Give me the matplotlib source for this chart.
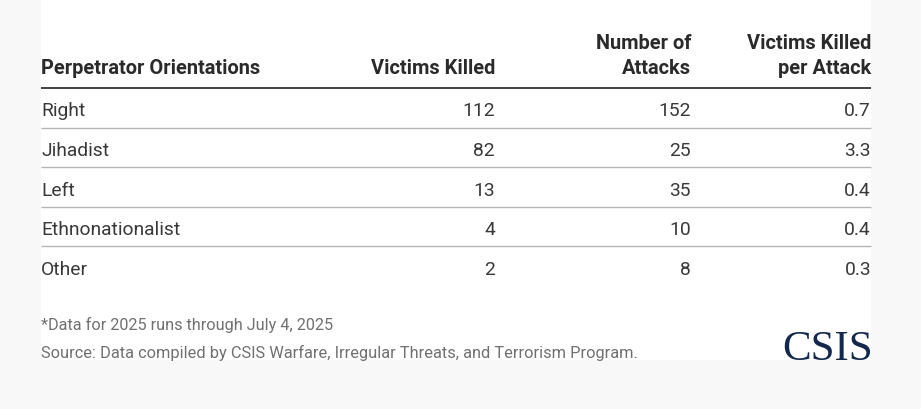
import matplotlib
matplotlib.use("Agg")
import matplotlib.pyplot as plt
from matplotlib.patches import Rectangle

# ---- data ----
categories = ["Right", "Jihadist", "Left", "Ethnonationalist", "Other"]
victims_killed = [112, 82, 13, 4, 2]
num_attacks = [152, 25, 35, 10, 8]
killed_per_attack = [0.7, 3.3, 0.4, 0.4, 0.3]
headers = ["Perpetrator Orientations", "Victims Killed", "Number of\nAttacks", "Victims Killed\nper Attack"]
note = "*Data for 2025 runs through July 4, 2025"
source = "Source: Data compiled by CSIS Warfare, Irregular Threats, and Terrorism Program."

W, H = 921, 410
fig = plt.figure(figsize=(W / 100, H / 100), dpi=100)
fig.patch.set_facecolor("#f8f8f8")
ax = fig.add_axes([0, 0, 1, 1])
ax.set_xlim(0, W)
ax.set_ylim(H, 0)
ax.axis("off")

# white panel
ax.add_patch(Rectangle((41, 0), 830, 361, facecolor="white", edgecolor="none", zorder=0))

FONT = "Roboto"
hdr_color = "#2a2a2a"
body_color = "#383838"
left_x = 41
col_right = [495, 691, 871]
header_base = 74
hdr_fs = 14.4
body_fs = 13.9

# headers
ax.text(left_x, header_base, headers[0], ha="left", va="baseline", fontsize=hdr_fs,
        fontweight="bold", color=hdr_color, family=FONT)
for xr, h in zip(col_right, headers[1:]):
    ax.text(xr, header_base, h, ha="right", va="baseline", fontsize=hdr_fs,
            fontweight="bold", color=hdr_color, family=FONT, linespacing=1.4,
            multialignment="right")

# header rule
header_line_y = 89
ax.plot([left_x, 871], [header_line_y, header_line_y], color="#333333", lw=1.3, solid_capstyle="butt")

row_h = 39.6
for i, cat in enumerate(categories):
    top = header_line_y + i * row_h
    cy = top + row_h / 2 + 0.6
    vals = [str(victims_killed[i]), str(num_attacks[i]), f"{killed_per_attack[i]:.1f}"]
    ax.text(left_x, cy, cat, ha="left", va="center_baseline", fontsize=body_fs,
            color=body_color, family=FONT)
    for xr, v in zip(col_right, vals):
        ax.text(xr, cy, v, ha="right", va="center_baseline", fontsize=body_fs,
                color=body_color, family=FONT)
    if i < len(categories) - 1:
        ly = top + row_h
        ax.plot([left_x, 871], [ly, ly], color="#b5b5b5", lw=1.0, solid_capstyle="butt")

# footer
ax.text(left_x, 323, note, ha="left", va="center_baseline", fontsize=11.7,
        color="#707070", family=FONT)
ax.text(left_x, 351, source, ha="left", va="center_baseline", fontsize=11.8,
        color="#707070", family=FONT)

# logo
ax.text(873, 360, "CSIS", ha="right", va="baseline", fontsize=31,
        color="#14284b", family="Liberation Serif")

fig.savefig("out.png", dpi=100, facecolor=fig.get_facecolor())
